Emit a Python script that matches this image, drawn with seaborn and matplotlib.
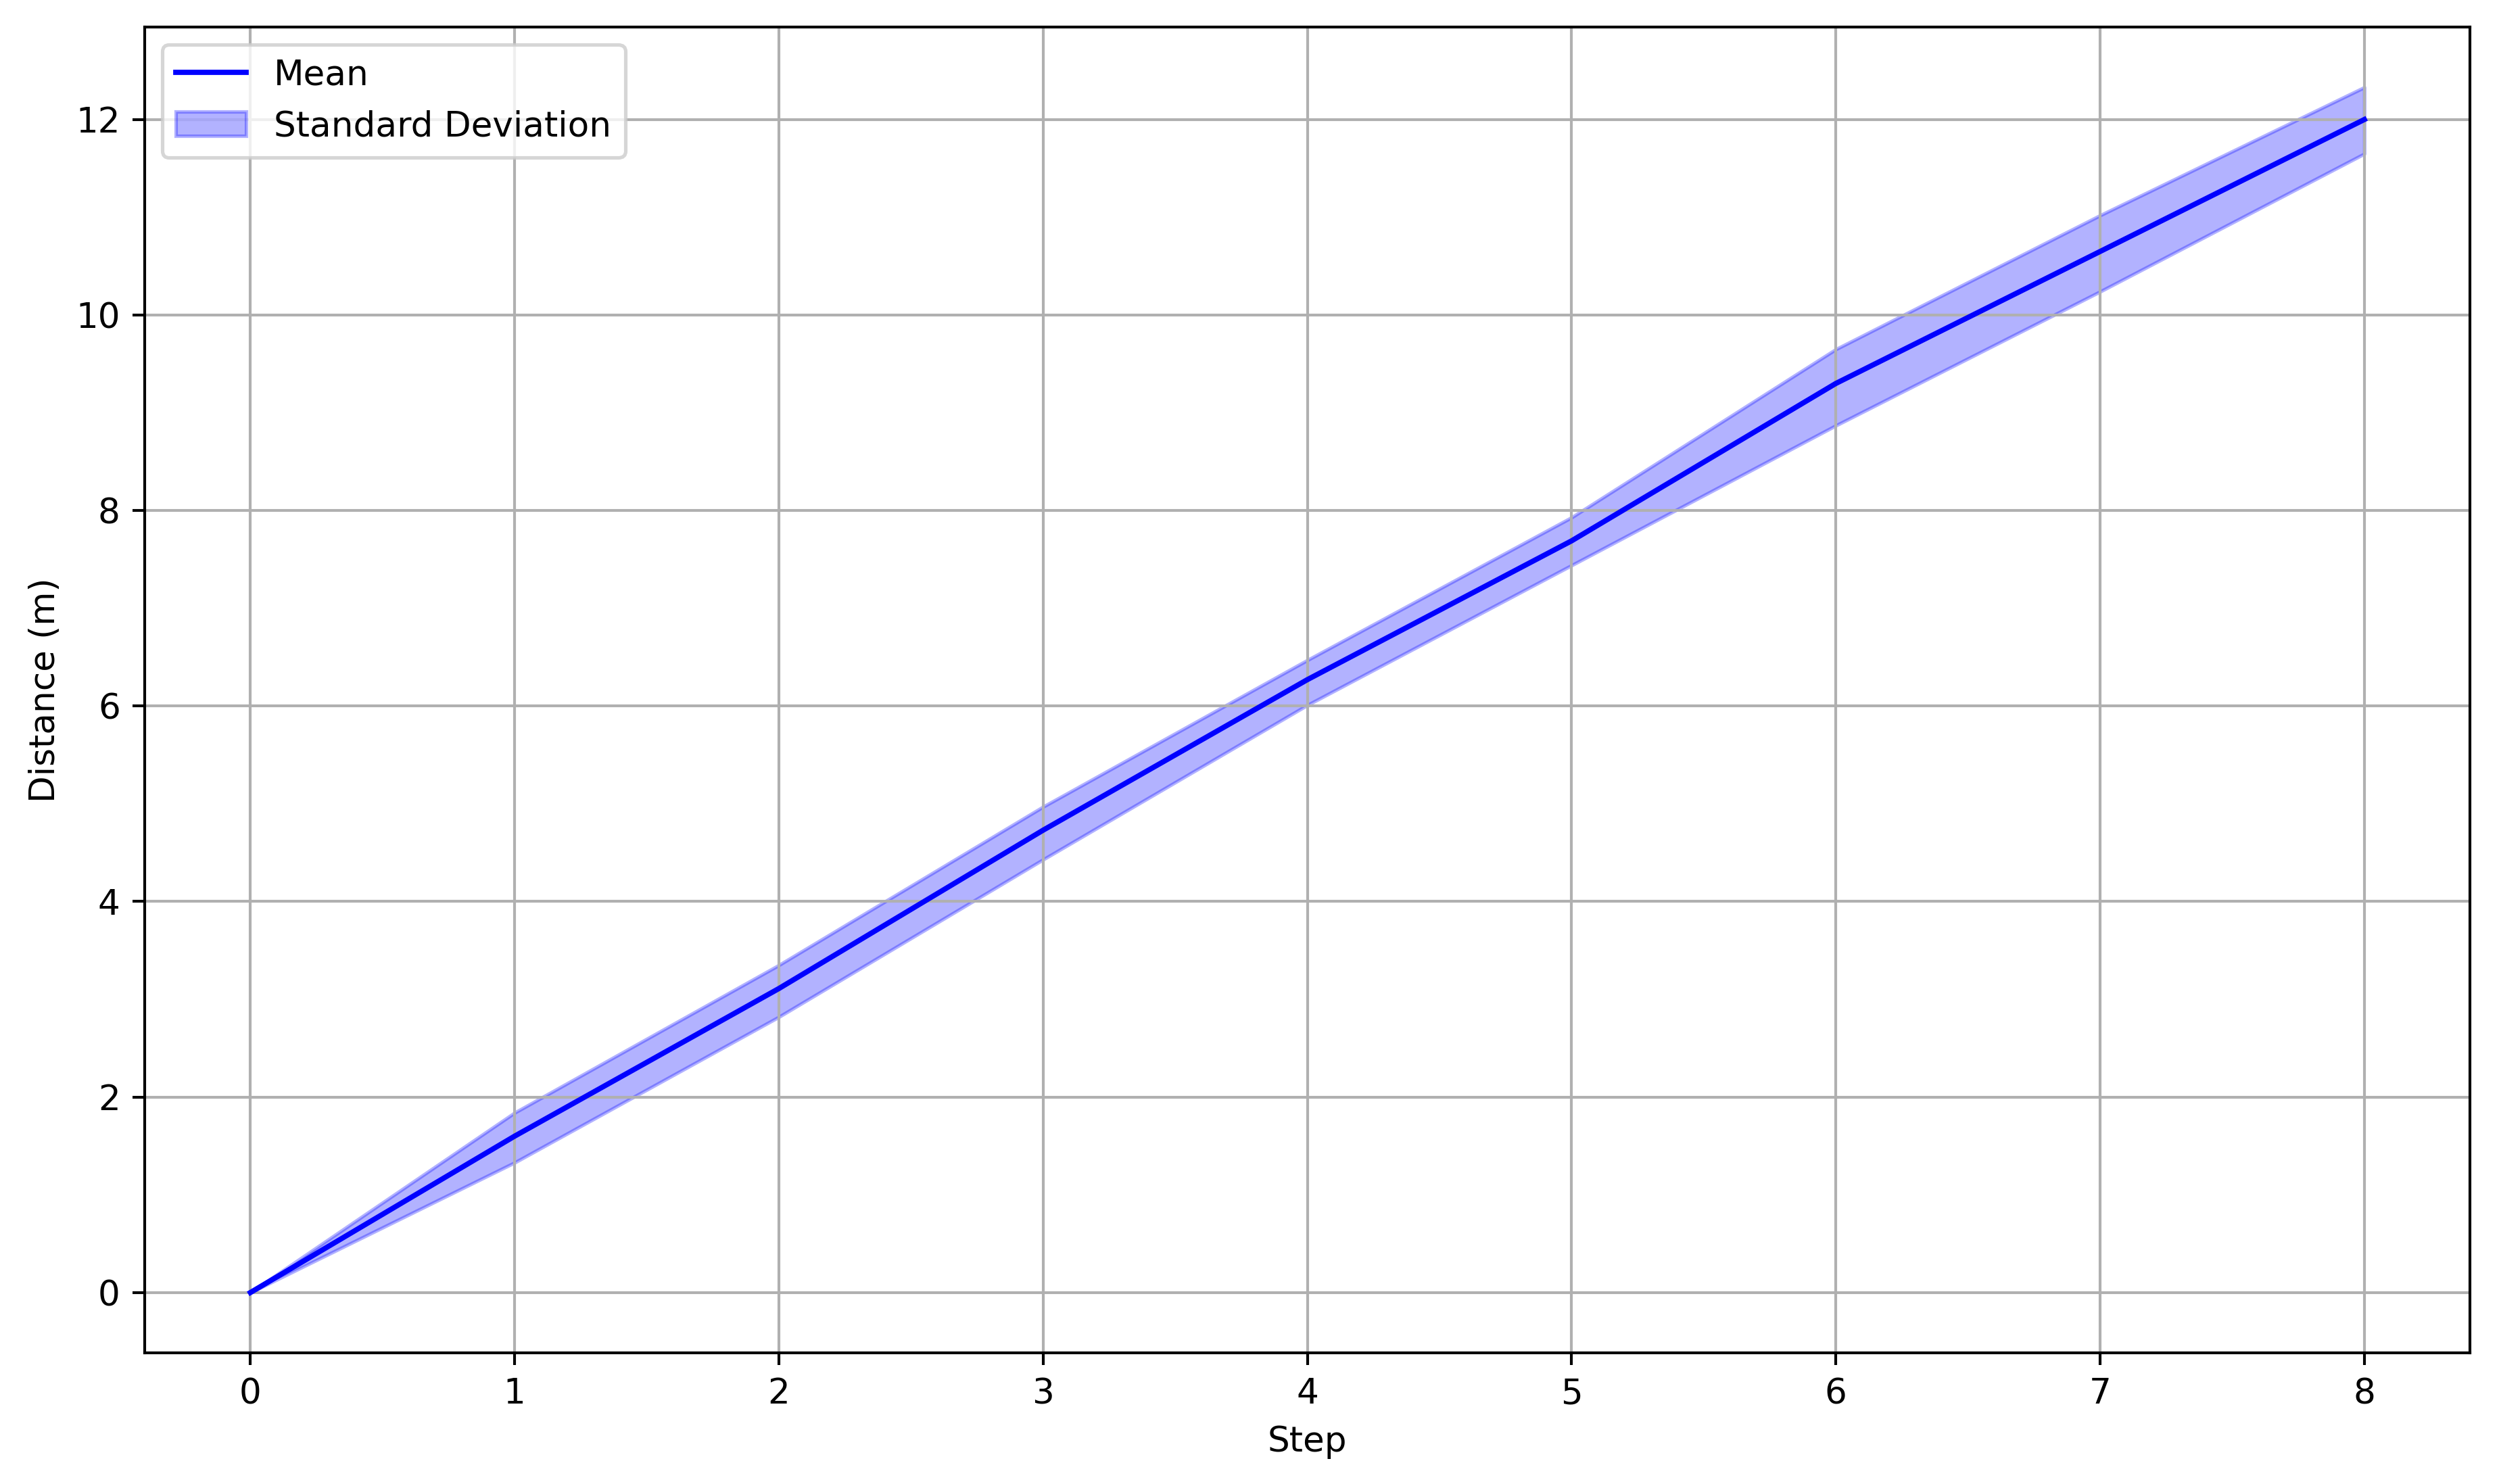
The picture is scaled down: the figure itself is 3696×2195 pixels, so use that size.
import matplotlib
matplotlib.use("Agg")
import matplotlib.pyplot as plt
import seaborn as sns
import numpy as np
import pandas as pd

steps = [0, 1, 2, 3, 4, 5, 6, 7, 8]
mean_vals = [0.0, 1.60, 3.11, 4.73, 6.27, 7.69, 9.30, 10.65, 12.0]
upper_vals = [0.0, 1.84, 3.35, 4.97, 6.47, 7.93, 9.65, 11.02, 12.33]
lower_vals = [0.0, 1.33, 2.82, 4.43, 6.01, 7.44, 8.87, 10.24, 11.65]

df = pd.DataFrame({"Step": steps, "Mean": mean_vals,
                   "Upper": upper_vals, "Lower": lower_vals})

DPI = 372
fig = plt.figure(figsize=(3696 / DPI, 2195 / DPI), dpi=DPI)
ax = fig.add_axes([0.0579, 0.0884, 0.9305, 0.8934])

sns.lineplot(data=df, x="Step", y="Mean", color="blue", linewidth=1.5,
             label="Mean", ax=ax)
ax.fill_between(df["Step"], df["Lower"], df["Upper"], color="blue",
                alpha=0.3, label="Standard Deviation")

ax.set_xlabel("Step")
ax.set_ylabel("Distance (m)")
ax.grid(True)
ax.legend(loc="upper left")

fig.savefig("out.png", dpi=DPI)
